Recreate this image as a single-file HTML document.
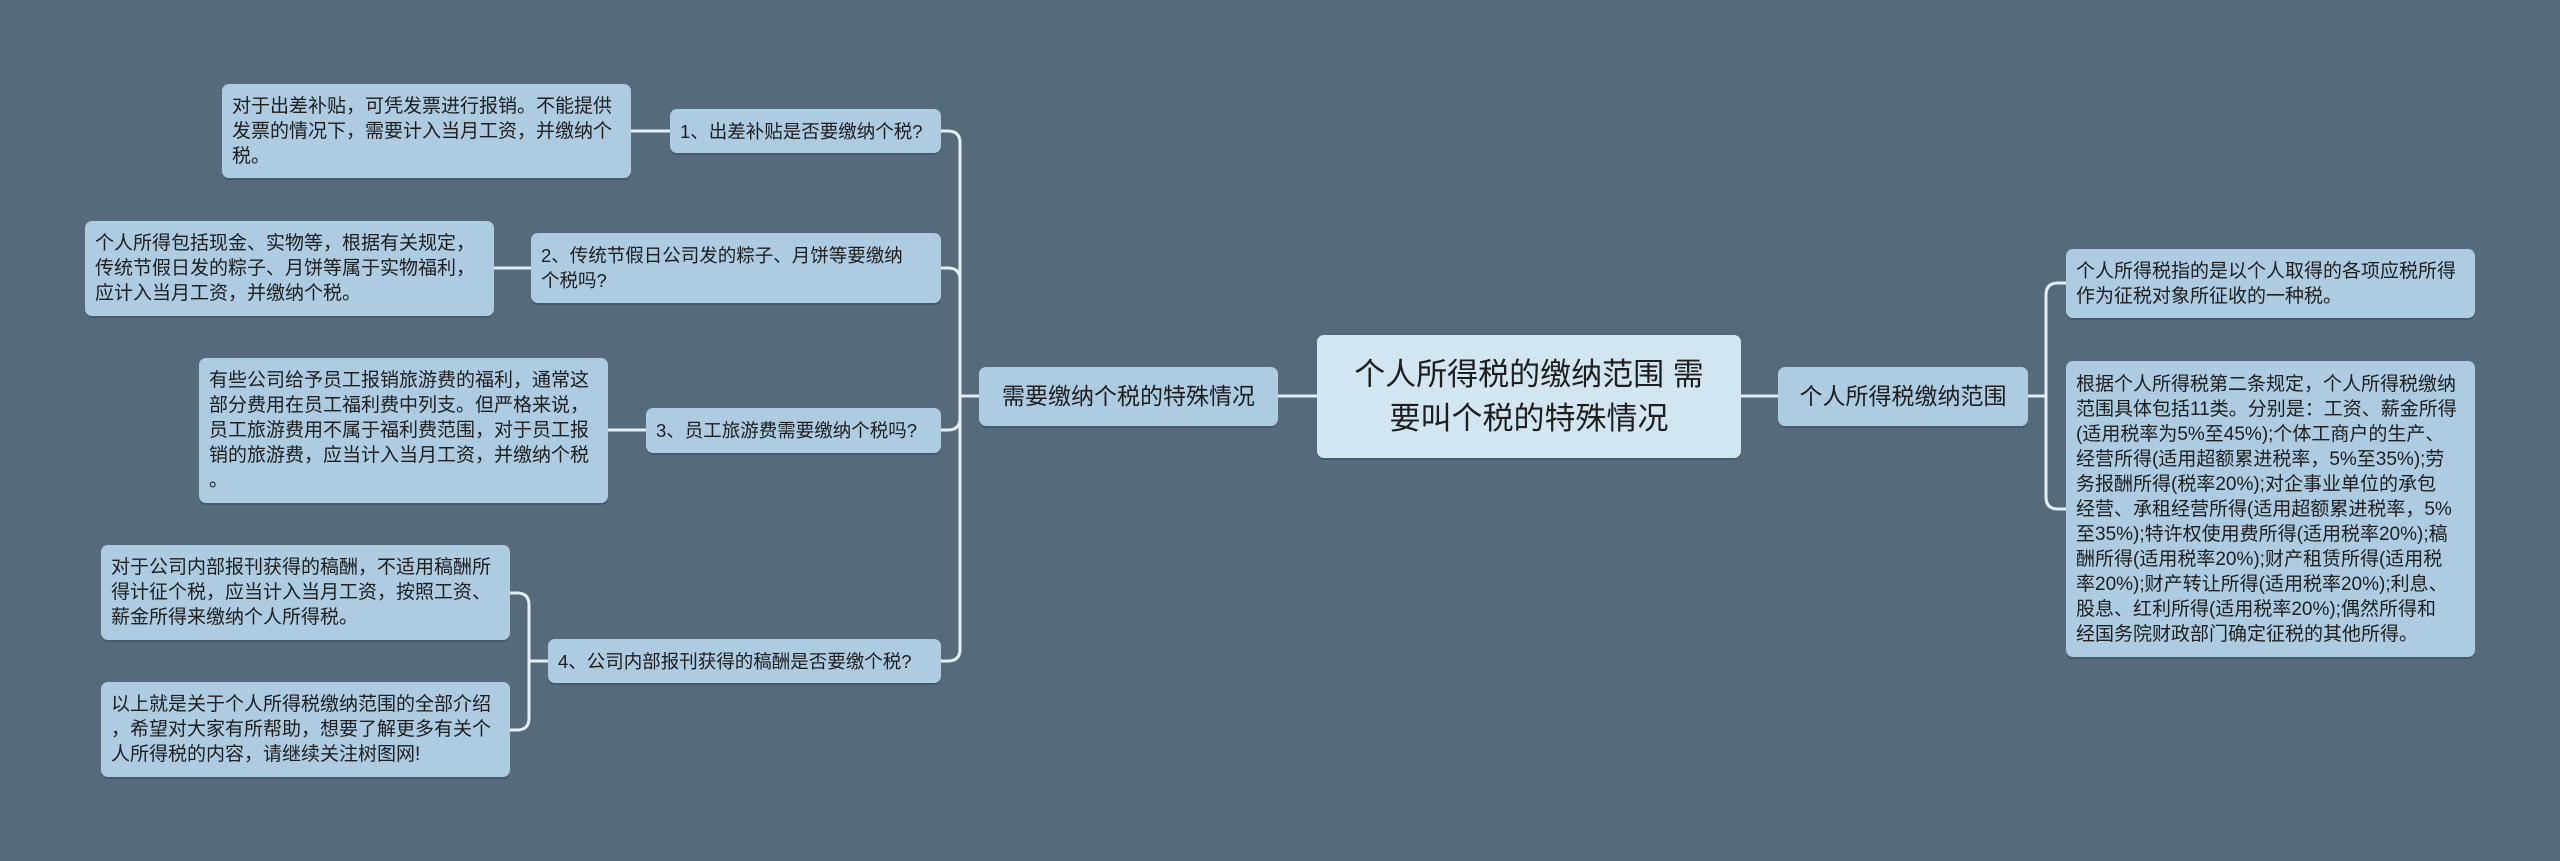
<!DOCTYPE html>
<html><head><meta charset="utf-8"><style>
html,body{margin:0;padding:0}
body{width:2560px;height:861px;background:#556a7a;position:relative;overflow:hidden;font-family:"Liberation Sans","Noto Sans CJK SC",sans-serif;color:#1e1e1e}
.b{position:absolute;box-sizing:border-box;background:#adcbe1;border-radius:7px;font-size:19px;line-height:25px;padding:0 10px;display:flex;align-items:center;white-space:nowrap;box-shadow:0 2px 0 rgba(40,60,80,.35)}
.q{font-size:18.5px}
.c{background:#d2e6f2;font-size:31px;line-height:44px;justify-content:center;text-align:center}
.m{font-size:23px}
svg{position:absolute;left:0;top:0}
</style></head><body>
<svg width="2560" height="861" fill="none" stroke="#e3eef5" stroke-width="3">
<path d="M1278 396 H1317"/>
<path d="M1741 396 H1778"/>
<path d="M631 131 H670"/>
<path d="M494 268 H531"/>
<path d="M608 430 H646"/>
<path d="M941 131 H948 Q960 131 960 143 V649 Q960 661 948 661 H941"/>
<path d="M941 268 H948 Q960 268 960 280"/>
<path d="M941 430 H948 Q960 430 960 418"/>
<path d="M960 396 H979"/>
<path d="M510 593 H517 Q529 593 529 605 V718 Q529 730 517 730 H510"/>
<path d="M529 661 H548"/>
<path d="M2028 396 H2046"/>
<path d="M2066 283 H2058 Q2046 283 2046 295 V497 Q2046 509 2058 509 H2066"/>
</svg>

<div class="b c" style="left:1317px;top:335px;width:424px;height:123px">个人所得税的缴纳范围 需<br>要叫个税的特殊情况</div>
<div class="b m" style="left:979px;top:367px;width:299px;height:59px;justify-content:center">需要缴纳个税的特殊情况</div>
<div class="b m" style="left:1778px;top:367px;width:250px;height:59px;justify-content:center">个人所得税缴纳范围</div>

<div class="b q" style="left:670px;top:109px;width:271px;height:44px">1、出差补贴是否要缴纳个税?</div>
<div class="b q" style="left:531px;top:233px;width:410px;height:70px">2、传统节假日公司发的粽子、月饼等要缴纳<br>个税吗?</div>
<div class="b q" style="left:646px;top:408px;width:295px;height:45px">3、员工旅游费需要缴纳个税吗?</div>
<div class="b q" style="left:548px;top:639px;width:393px;height:44px">4、公司内部报刊获得的稿酬是否要缴个税?</div>

<div class="b" style="left:222px;top:84px;width:409px;height:94px">对于出差补贴，可凭发票进行报销。不能提供<br>发票的情况下，需要计入当月工资，并缴纳个<br>税。</div>
<div class="b" style="left:85px;top:221px;width:409px;height:95px">个人所得包括现金、实物等，根据有关规定，<br>传统节假日发的粽子、月饼等属于实物福利，<br>应计入当月工资，并缴纳个税。</div>
<div class="b" style="left:199px;top:358px;width:409px;height:145px">有些公司给予员工报销旅游费的福利，通常这<br>部分费用在员工福利费中列支。但严格来说，<br>员工旅游费用不属于福利费范围，对于员工报<br>销的旅游费，应当计入当月工资，并缴纳个税<br>。</div>
<div class="b" style="left:101px;top:545px;width:409px;height:95px">对于公司内部报刊获得的稿酬，不适用稿酬所<br>得计征个税，应当计入当月工资，按照工资、<br>薪金所得来缴纳个人所得税。</div>
<div class="b" style="left:101px;top:682px;width:409px;height:95px">以上就是关于个人所得税缴纳范围的全部介绍<br>，希望对大家有所帮助，想要了解更多有关个<br>人所得税的内容，请继续关注树图网!</div>

<div class="b" style="left:2066px;top:249px;width:409px;height:69px">个人所得税指的是以个人取得的各项应税所得<br>作为征税对象所征收的一种税。</div>
<div class="b" style="left:2066px;top:361px;width:409px;height:296px">根据个人所得税第二条规定，个人所得税缴纳<br>范围具体包括11类。分别是：工资、薪金所得<br>(适用税率为5%至45%);个体工商户的生产、<br>经营所得(适用超额累进税率，5%至35%);劳<br>务报酬所得(税率20%);对企事业单位的承包<br>经营、承租经营所得(适用超额累进税率，5%<br>至35%);特许权使用费所得(适用税率20%);稿<br>酬所得(适用税率20%);财产租赁所得(适用税<br>率20%);财产转让所得(适用税率20%);利息、<br>股息、红利所得(适用税率20%);偶然所得和<br>经国务院财政部门确定征税的其他所得。</div>
</body></html>
